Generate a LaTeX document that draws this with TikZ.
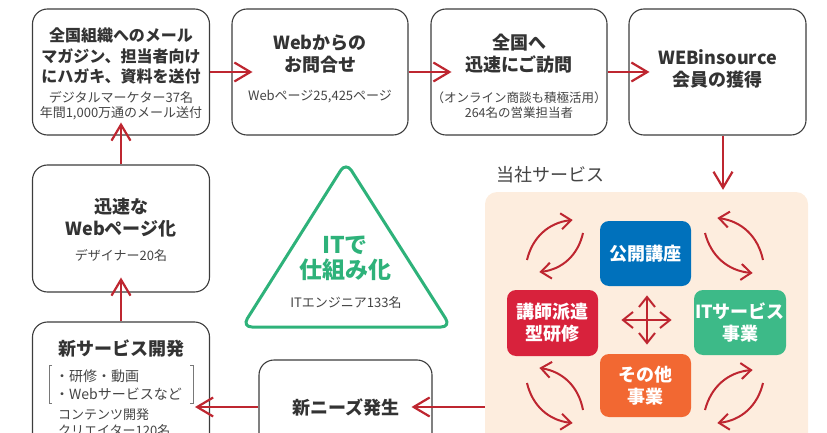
\documentclass[tikz,border=0pt]{standalone}
\usepackage{fontspec}
\setmainfont{Noto Sans CJK JP}
\usetikzlibrary{arrows.meta}
\pgfdeclarearrow{
  name = Chev,
  defaults = { length = 12pt, width = 18pt, line width = 0pt 1 },
  parameters = {\the\pgfarrowlength,\the\pgfarrowwidth,\the\pgfarrowlinewidth},
  setup code = {
    \pgfarrowssettipend{.5\pgfarrowlinewidth}
    \pgfarrowssetlineend{-.6\pgfarrowlinewidth}
    \pgfarrowssavethe\pgfarrowlength
    \pgfarrowssavethe\pgfarrowwidth
    \pgfarrowssavethe\pgfarrowlinewidth
  },
  drawing code = {
    \pgfsetdash{}{0pt}
    \pgfsetlinewidth{\pgfarrowlinewidth}
    \pgfsetmiterjoin
    \pgfpathmoveto{\pgfpoint{-\pgfarrowlength}{.5\pgfarrowwidth}}
    \pgfpathlineto{\pgfpointorigin}
    \pgfpathlineto{\pgfpoint{-\pgfarrowlength}{-.5\pgfarrowwidth}}
    \pgfusepathqstroke
  }
}
\definecolor{ared}{RGB}{190,38,48}
\definecolor{boxgray}{RGB}{60,60,60}
\definecolor{txt}{RGB}{51,51,51}
\definecolor{subtxt}{RGB}{68,68,68}
\definecolor{peach}{RGB}{253,237,222}
\definecolor{kblue}{RGB}{0,113,188}
\definecolor{kred}{RGB}{216,34,60}
\definecolor{kgreen}{RGB}{61,186,136}
\definecolor{korange}{RGB}{242,104,50}
\definecolor{tgreen}{RGB}{46,178,122}
\definecolor{brgray}{RGB}{120,120,120}
\begin{document}
\begin{tikzpicture}[x=1pt,y=-1pt,
  box/.style={draw=boxgray, line width=1.1pt, rounded corners=15pt, inner sep=0pt},
  ttl/.style={font=\bfseries\fontsize{18}{22}\selectfont, text=txt, align=center, inner sep=0pt},
  ttls/.style={font=\bfseries\fontsize{16}{20.5}\selectfont, text=txt, align=center, inner sep=0pt},
  sub/.style={font=\fontsize{13}{15.5}\selectfont, text=subtxt, align=center, inner sep=0pt},
  subs/.style={font=\fontsize{12.5}{15.5}\selectfont, text=subtxt, align=center, inner sep=0pt},
  arr/.style={draw=ared, line width=2.2pt, -{Chev[length=16pt,width=19pt]}},
  carr/.style={draw=ared, line width=2pt, -{Chev[length=10pt,width=16pt]}},
  darr/.style={draw=ared, line width=2pt, {Chev[length=10pt,width=16pt]}-{Chev[length=10pt,width=16pt]}},
  cbox/.style={rounded corners=9pt, inner sep=0pt, text=white, align=center, font=\bfseries\fontsize{18}{22}\selectfont},
  brk/.style={draw=brgray, line width=0.8pt}
]
\useasboundingbox (0,0) rectangle (827,433);
\clip (0,0) rectangle (827,433);

% peach service area
\node[fill=peach, rounded corners=12pt, minimum width=323pt, minimum height=270pt, inner sep=0pt] (svc) at (646.5,327) {};
\node[font=\fontsize{18}{22}\selectfont, text=subtxt, inner sep=0pt] (svct) at (550,175) {当社サービス};

% top row boxes
\node[box, minimum width=177pt, minimum height=126pt] (b1) at (121,72) {};
\node[box, minimum width=176pt, minimum height=126pt] (b2) at (320,72) {};
\node[box, minimum width=176pt, minimum height=126pt] (b3) at (519,72) {};
\node[box, minimum width=177pt, minimum height=126pt] (b4) at (717.5,72) {};

\node[ttls] (t1) at (121,56) {全国組織へのメール\\マガジン、担当者向け\\にハガキ、資料を送付};
\node[sub] (s1) at (121,105.5) {デジタルマーケター37名\\年間1,000万通のメール送付};

\node[ttl] (t2) at (320,54) {Webからの\\お問合せ};
\node[sub] (s2) at (320,97) {Webページ25,425ページ};

\node[ttl] (t3) at (519,54) {全国へ\\迅速にご訪問};
\node[subs] (s3) at (519,105) {（オンライン商談も積極活用）\\264名の営業担当者};

\node[ttl] (t4) at (717.5,69) {WEBinsource\\会員の獲得};

% left column
\node[box, minimum width=177pt, minimum height=127pt] (b5) at (121,228.5) {};
\node[ttl] (t5) at (121,218) {迅速な\\Webページ化};
\node[sub] (s5) at (121,255) {デザイナー20名};

\node[box, minimum width=177pt, minimum height=140pt] (b6) at (121,392) {};
\node[ttl] (t6) at (121,349) {新サービス開発};
\node[font=\fontsize{14}{18}\selectfont, text=subtxt, align=left, inner sep=0pt, anchor=west] (l6) at (55,385) {・研修・動画\\・Webサービスなど};
\node[sub, align=left, anchor=west] (s6) at (58,422.5) {コンテンツ開発\\クリエイター120名};
\draw[brk] (52,365) -- (49,365) -- (49,403) -- (52,403);
\draw[brk] (190,365) -- (193,365) -- (193,403) -- (190,403);

\node[box, minimum width=173pt, minimum height=120pt] (b7) at (345.5,420) {};
\node[ttl] (t7) at (346,407) {新ニーズ発生};

% triangle
\draw[tgreen, line width=3pt, rounded corners=10pt] (346,162) -- (451,327) -- (242,327) -- cycle;
\node[font=\bfseries\fontsize{23}{25}\selectfont, text=tgreen, align=center, inner sep=0pt] (tri) at (345,258) {ITで\\仕組み化};
\node[sub] (trs) at (346,303) {ITエンジニア133名};

% main arrows
\draw[arr] (b1.east) -- ([xshift=20pt]b2.west);
\draw[arr] (b2.east) -- ([xshift=20pt]b3.west);
\draw[arr] (b3.east) -- ([xshift=20pt]b4.west);
\draw[arr] ([xshift=5.5pt]b4.south) -- ([xshift=5.5pt,yshift=3pt]b4.south |- svc.north);
\draw[arr] (svc.west |- b7.west) ++(0,-13) coordinate (pa) (pa) -- ([xshift=-20pt]pa -| b7.east);
\draw[arr] (pa -| b7.west) -- ([xshift=-14pt]pa -| b6.east);
\draw[arr] (b6.north) -- ([yshift=14pt]b5.south);
\draw[arr] (b5.north) -- ([yshift=12pt]b1.south);

% colored service boxes
\node[cbox, fill=kblue, minimum width=91pt, minimum height=65pt] (k1) at (645.5,253.5) {公開講座};
\node[cbox, fill=kred, minimum width=91pt, minimum height=66pt] (k2) at (552.5,323) {講師派遣\\型研修};
\node[cbox, fill=kgreen, minimum width=92pt, minimum height=65pt] (k3) at (740,322.5) {ITサービス\\事業};
\node[cbox, fill=korange, minimum width=91pt, minimum height=63pt] (k4) at (645.5,385.5) {その他\\事業};

% center four-way arrow
\draw[darr] (622,320) -- (671,320);
\draw[darr] (647,296) -- (647,344);

% cycle arrows
\draw[carr] (527,260) to[bend left=35] (572,220);
\draw[carr] (583,233) to[bend left=35] (540,272);
\draw[carr] (705,233) to[bend right=35] (752,273);
\draw[carr] (763,260) to[bend right=35] (718,218);
\draw[carr] (583,410) to[bend right=35] (540,368);
\draw[carr] (527,383) to[bend right=35] (572,423);
\draw[carr] (705,410) to[bend left=35] (752,370);
\draw[carr] (763,383) to[bend left=35] (718,423);
\end{tikzpicture}
\end{document}
